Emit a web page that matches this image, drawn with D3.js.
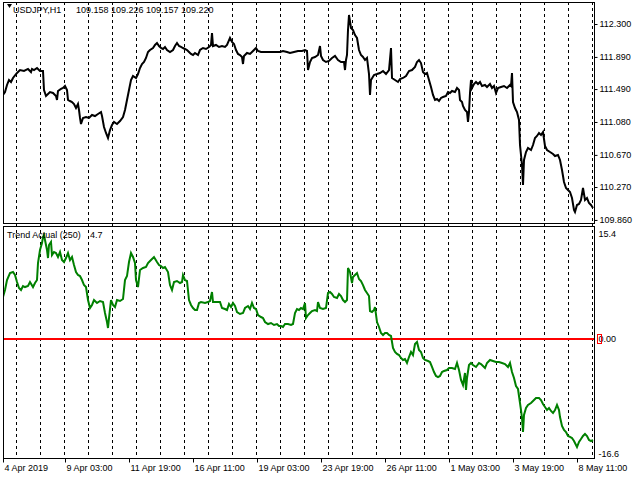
<!DOCTYPE html>
<html><head><meta charset="utf-8">
<script src="https://cdn.jsdelivr.net/npm/d3@7"></script>
<style>
body{margin:0;background:#fff}
svg{display:block}
text{font-family:"Liberation Sans",Arial,sans-serif;font-size:9px;fill:#000}
</style>
</head><body>
<svg id="c" width="640" height="480"></svg>
<script>
const symbolTitle = "USDJPY,H1";
const ohlcValues = ["109.158", "109.226", "109.157", "109.220"];
const indicatorTitle = "Trend Actual (250)";
const indicatorValue = "4.7";

const priceBars = [0,2,4,6,8,10,13,15,17,21,25,28,29,31,34,37,40,41,43,45,47,50,53,54,55,58,60,62,64,65,67,69,71,73,75,76,77,78,80,83,86,89,92,95,98,99,101,103,105,107,109,111,114,117,120,122,124,126,128,130,133,135,137,139,141,143,145,147,150,152,154,156,158,160,162,164,167,170,172,174,176,178,180,182,184,186,188,190,192,195,197,200,203,206,208,209,210,213,216,219,222,224,227,229,231,233,235,237,239,240,241,244,247,250,253,255,258,262,267,272,277,280,284,287,291,295,299,302,304,305,307,309,312,315,317,318,320,323,326,329,332,335,338,341,342,343,344,345,346,348,350,352,354,356,358,360,362,364,366,367,368,371,374,377,380,383,386,388,389,392,395,397,400,403,406,409,412,414,416,418,420,422,424,426,428,430,432,434,436,438,440,443,445,447,449,452,454,456,457,459,460,462,464,465,466,467,468,469,471,473,475,477,479,482,484,487,489,491,493,495,498,501,504,507,508,509,510,512,514,516,517,518,519,520,521,523,525,528,530,532,534,536,538,540,542,544,547,550,552,555,557,559,561,563,565,567,569,571,572,574,576,578,580,582,584,586,588,590];
const priceValues = [111.416,111.453,111.541,111.603,111.578,111.628,111.677,111.702,111.727,111.715,111.740,111.702,111.740,111.727,111.752,111.715,111.715,111.478,111.404,111.428,111.453,111.441,111.404,111.354,111.466,111.491,111.503,111.528,111.478,111.354,111.341,111.329,111.304,111.254,111.304,111.229,111.130,111.055,111.130,111.142,111.130,111.167,111.154,111.179,111.204,111.154,111.017,110.943,110.881,110.980,111.042,111.080,111.055,111.092,111.142,111.229,111.354,111.478,111.603,111.653,111.628,111.677,111.752,111.802,111.827,111.877,111.951,111.976,112.001,112.039,112.063,112.026,112.001,111.989,112.014,111.976,111.951,111.976,112.026,112.063,112.026,112.014,112.001,111.989,111.976,111.951,111.927,111.914,111.939,111.914,111.976,112.001,111.989,112.014,112.039,112.188,112.026,112.039,112.014,112.026,112.014,112.039,112.126,112.076,112.051,111.976,111.927,111.914,111.889,111.802,111.902,111.939,111.927,111.964,112.001,111.964,111.951,111.951,111.951,111.951,111.951,111.964,111.951,111.939,111.951,111.964,111.964,111.976,111.964,111.727,111.827,111.877,111.889,111.914,112.026,111.902,111.852,111.827,111.840,111.877,111.902,111.852,111.827,111.827,111.727,111.852,111.914,112.225,112.412,112.250,112.225,112.163,112.126,111.976,111.914,111.889,111.852,111.877,111.677,111.416,111.603,111.665,111.677,111.690,111.715,111.677,111.727,112.001,111.628,111.603,111.578,111.615,111.628,111.653,111.715,111.727,111.765,111.827,111.852,111.814,111.702,111.677,111.690,111.603,111.516,111.416,111.354,111.366,111.341,111.379,111.391,111.404,111.453,111.441,111.466,111.453,111.503,111.478,111.354,111.329,111.279,111.229,111.204,111.080,111.204,111.441,111.603,111.503,111.553,111.578,111.553,111.578,111.528,111.541,111.516,111.553,111.503,111.528,111.441,111.503,111.516,111.528,111.503,111.541,111.528,111.690,111.329,111.254,111.204,111.105,110.793,110.669,110.544,110.295,110.607,110.706,110.756,110.731,110.793,110.881,110.906,110.943,110.918,110.955,110.781,110.731,110.706,110.681,110.656,110.669,110.607,110.482,110.333,110.258,110.233,110.208,110.133,109.984,109.959,110.046,110.059,110.109,110.258,110.109,110.133,110.071,110.046,110.009];

const trendBars = [0,2,4,7,10,12,14,16,18,20,22,25,27,30,32,34,35,37,39,40,41,42,44,45,46,48,49,51,53,55,57,59,61,63,65,67,69,71,73,75,77,79,81,83,85,87,89,91,94,97,100,102,104,105,106,108,110,112,114,117,120,122,124,126,128,130,132,133,135,137,140,143,145,148,151,154,156,158,160,162,165,167,169,171,174,177,179,180,182,184,186,188,190,192,194,196,198,202,205,207,209,210,213,217,219,222,224,226,228,230,232,234,237,240,242,245,247,249,251,253,255,258,260,262,265,268,271,274,276,278,280,282,285,288,290,292,294,296,298,300,302,303,305,307,309,312,314,315,317,320,323,325,327,329,331,334,336,338,340,342,344,345,347,349,350,352,354,356,358,360,362,364,366,367,369,371,372,374,376,378,380,382,384,386,388,390,392,394,396,398,400,402,404,406,408,410,412,414,416,418,420,422,425,427,429,431,433,435,437,439,441,444,446,449,452,454,456,458,460,462,463,464,466,468,470,473,476,478,480,482,484,487,490,493,496,499,502,505,507,509,511,513,515,517,518,519,520,521,523,525,528,531,533,536,538,540,542,544,546,548,550,552,554,556,557,559,561,563,565,567,569,571,573,574,576,578,580,582,584,586,588,590];
const trendValues = [6.11,7.13,8.58,9.60,9.75,9.31,8.29,7.42,7.13,7.71,7.56,7.71,8.29,7.56,8.15,8.58,11.05,12.95,13.96,14.84,15.13,14.40,12.95,11.78,13.67,14.11,12.22,12.65,12.51,11.93,12.65,11.49,11.20,11.78,12.51,11.49,11.93,10.76,9.75,9.31,9.16,8.58,7.85,7.56,5.67,4.51,4.95,5.67,5.24,5.53,5.38,3.78,2.47,1.60,3.05,5.67,4.95,4.65,5.67,5.53,5.82,8.58,9.16,11.20,12.51,11.93,11.05,8.58,7.56,10.04,10.33,10.47,11.05,11.49,11.93,11.20,10.76,10.62,10.33,10.47,9.75,7.85,7.13,8.29,8.44,8.15,8.29,9.31,8.58,8.44,5.67,4.95,4.51,4.22,4.22,5.24,5.38,5.24,5.38,5.53,6.84,5.38,5.38,5.38,4.51,4.36,4.22,5.09,4.65,5.24,4.80,3.93,3.64,3.78,4.51,4.80,4.36,5.24,4.51,4.36,3.49,3.20,3.05,2.47,2.18,2.33,2.04,2.18,1.89,1.89,1.75,2.18,2.18,2.04,2.18,3.78,4.36,4.22,4.51,4.36,5.24,3.05,3.49,3.78,4.07,4.22,4.07,5.38,4.51,4.36,4.51,6.69,6.84,6.55,6.11,5.96,6.55,6.25,5.67,5.38,5.67,10.33,9.75,8.15,9.02,9.31,9.60,8.73,8.44,7.85,7.13,6.69,6.25,4.07,3.93,4.22,4.65,2.47,1.75,0.87,0.58,0.87,0.87,0.58,0.44,-1.31,-1.89,-2.18,-2.33,-2.76,-3.05,-2.91,-3.49,-2.62,-1.89,-2.33,-0.73,-0.44,-1.60,-1.89,-2.76,-3.05,-3.20,-3.35,-4.07,-4.80,-5.38,-5.53,-5.38,-4.80,-4.65,-4.51,-4.22,-4.22,-4.36,-3.49,-4.51,-5.96,-6.69,-4.95,-7.42,-5.67,-3.78,-3.49,-3.78,-4.07,-3.49,-3.64,-3.93,-4.22,-3.49,-3.05,-3.20,-3.35,-3.35,-3.49,-3.64,-4.07,-3.49,-4.80,-5.67,-6.84,-7.27,-9.31,-10.33,-11.49,-13.53,-11.05,-10.04,-9.60,-9.31,-8.87,-8.58,-8.58,-8.87,-9.45,-9.89,-10.33,-10.04,-10.47,-10.76,-10.33,-9.60,-10.33,-11.35,-12.65,-13.24,-13.53,-14.11,-14.25,-14.40,-14.84,-15.42,-15.71,-14.98,-14.55,-14.11,-13.82,-14.11,-14.69,-14.84,-14.69];

const priceTicks = [112.300, 111.890, 111.490, 111.080, 110.670, 110.270, 109.860];
const trendTicks = [15.4, 0, -16.6];
const trendTickLabels = ["15.4", "0.00", "-16.6"];
const levelValue = 0;
const timeLabels = ["4 Apr 2019", "9 Apr 03:00", "11 Apr 19:00", "16 Apr 11:00", "19 Apr 03:00", "23 Apr 19:00", "26 Apr 11:00", "1 May 03:00", "3 May 19:00", "8 May 11:00"];
const timeLabelBars = [0, 62, 126, 190, 254, 318, 382, 446, 510, 574];

// layout
const L = 3, R = 594, T = 2, S1 = 223, S2 = 226, B = 458;
const FONT = "Liberation Sans, Arial, sans-serif";
const svg = d3.select("#c");

const x = d3.scaleLinear().domain([0, 591]).range([L, R]);
const yP = d3.scaleLinear().domain([109.822, 112.574]).range([S1, T]);
const yT = d3.scaleLinear().domain([-17.31, 16.44]).range([B, S2]);

const defs = svg.append("defs");
defs.append("clipPath").attr("id", "cp1").append("rect").attr("x", L).attr("y", T).attr("width", R - L).attr("height", S1 - T);
defs.append("clipPath").attr("id", "cp2").append("rect").attr("x", L).attr("y", S2).attr("width", R - L).attr("height", B - S2);

// vertical dashed grid
const gridBars = d3.range(13, 591, 24);
svg.append("g").selectAll("line").data(gridBars).join("line")
  .attr("x1", d => Math.round(x(d)) + 0.5).attr("x2", d => Math.round(x(d)) + 0.5)
  .attr("y1", T).attr("y2", B)
  .attr("stroke", "#000").attr("stroke-width", 1).attr("stroke-dasharray", "3,3");

// level line
svg.append("line").attr("x1", L).attr("x2", R).attr("y1", yT(levelValue)).attr("y2", yT(levelValue))
  .attr("stroke", "#ff0000").attr("stroke-width", 2);

// price line
const priceData = priceBars.map((b, i) => [b, priceValues[i]]);
svg.append("path").datum(priceData).attr("clip-path", "url(#cp1)")
  .attr("fill", "none").attr("stroke", "#000").attr("stroke-width", 2)
  .attr("d", d3.line().x(d => x(d[0])).y(d => yP(d[1])));

// trend line
const trendData = trendBars.map((b, i) => [b, trendValues[i]]);
svg.append("path").datum(trendData).attr("clip-path", "url(#cp2)")
  .attr("fill", "none").attr("stroke", "#008000").attr("stroke-width", 2)
  .attr("d", d3.line().x(d => x(d[0])).y(d => yT(d[1])));

// frames
const frame = svg.append("g").attr("stroke", "#000").attr("stroke-width", 1).attr("fill", "none");
frame.append("rect").attr("x", L + 0.5).attr("y", T + 0.5).attr("width", R - L).attr("height", S1 - T);
frame.append("rect").attr("x", L + 0.5).attr("y", S2 + 0.5).attr("width", R - L).attr("height", B - S2);

// price axis
const axP = svg.append("g").attr("transform", `translate(${R + 0.5},0)`)
  .call(d3.axisRight(yP).tickValues(priceTicks).tickSize(3).tickSizeOuter(0).tickPadding(2).tickFormat(d3.format(".3f")));
axP.select(".domain").remove();
axP.selectAll("text").attr("font-family", FONT).attr("font-size", 9).attr("fill", "#000");
axP.selectAll("line").attr("stroke", "#000");

// trend axis
const axT = svg.append("g").attr("transform", `translate(${R + 0.5},0)`)
  .call(d3.axisRight(yT).tickValues(trendTicks).tickSize(0).tickPadding(4).tickFormat((d, i) => trendTickLabels[i]));
axT.select(".domain").remove();
axT.selectAll("text").attr("font-family", FONT).attr("font-size", 9).attr("fill", "#000");
// level marker box
svg.append("rect").attr("x", R + 3.5).attr("y", yT(levelValue) - 4.5).attr("width", 4).attr("height", 9)
  .attr("fill", "none").attr("stroke", "#ff0000").attr("stroke-width", 1);

// time axis
const axX = svg.append("g").attr("transform", `translate(0,${B + 0.5})`)
  .call(d3.axisBottom(x).tickValues(timeLabelBars).tickSize(4).tickSizeOuter(0).tickPadding(2).tickFormat((d, i) => timeLabels[i]));
axX.select(".domain").remove();
axX.selectAll("text").attr("text-anchor", "start").attr("dx", "1").attr("font-family", FONT).attr("font-size", 9.5).attr("fill", "#000");
axX.selectAll("line").attr("stroke", "#000");

// header
svg.append("path").attr("d", "M7,4 L12,4 L9.5,8 Z").attr("fill", "#000");
svg.append("text").attr("x", 13).attr("y", 13).text(symbolTitle);
const ohlcX = [76, 111, 146, 181];
svg.append("g").selectAll("text").data(ohlcValues).join("text")
  .attr("x", (d, i) => ohlcX[i]).attr("y", 13).text(d => d);
svg.append("text").attr("x", 7).attr("y", 238).text(indicatorTitle);
svg.append("text").attr("x", 90).attr("y", 238).text(indicatorValue);
</script>
</body></html>
